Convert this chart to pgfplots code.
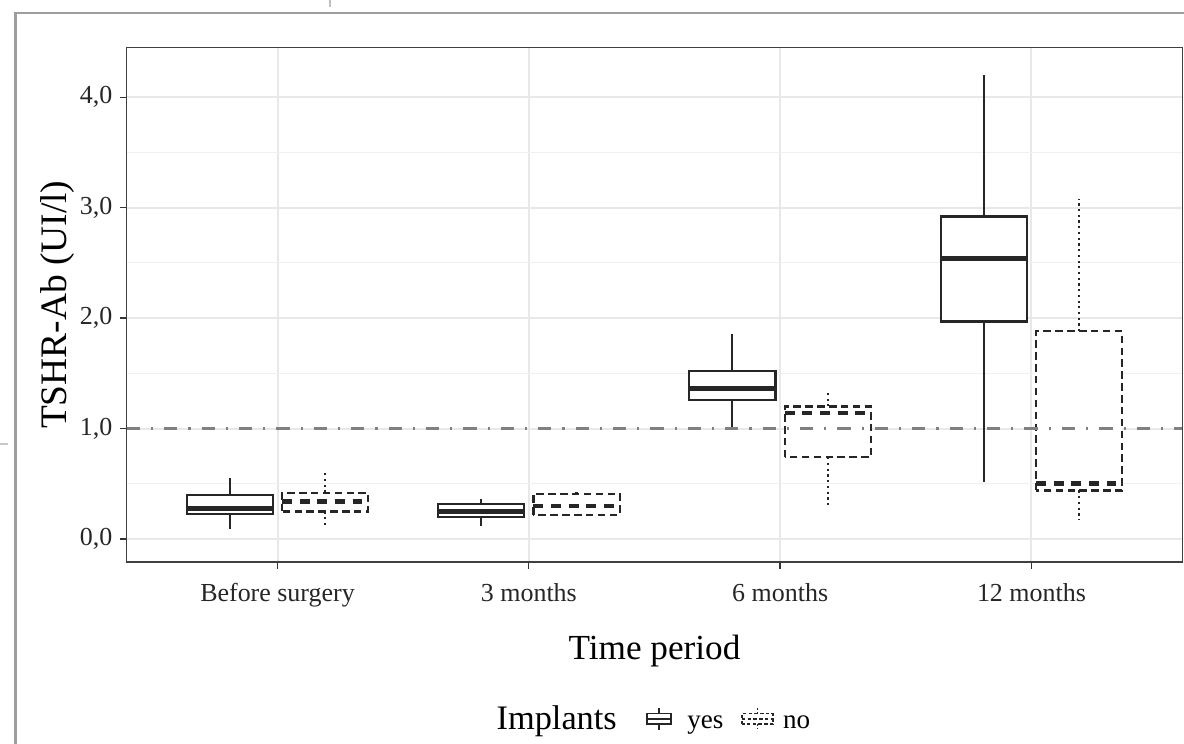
\documentclass[border=0pt]{standalone}
\usepackage{pgfplots}
\pgfplotsset{compat=1.18}
\usepgfplotslibrary{statistics}
\usepackage{fontspec}
\setmainfont{Liberation Serif}
\newcommand{\bigstrut}{\vphantom{\fontsize{15.6}{18}\selectfont Ip}}
\pgfplotsset{
  yesbox/.style={forget plot, draw=black!85, fill=white, line width=1pt, solid,
    boxplot/draw direction=y,
    boxplot/box extend=0.343, boxplot/whisker extend=0,
    boxplot/every box/.style={draw=black!85, fill=white, line width=1pt, solid},
    boxplot/every whisker/.style={draw=black!85, line width=1pt, solid},
    boxplot/every median/.style={draw=black!85, line width=2.3pt, solid}},
  nobox/.style={forget plot, draw=black!85, fill=white, line width=1pt,
    boxplot/draw direction=y,
    boxplot/box extend=0.343, boxplot/whisker extend=0,
    boxplot/every box/.style={draw=black!85, fill=white, line width=1pt, dash pattern=on 3.4pt off 2pt},
    boxplot/every whisker/.style={draw=black!85, line width=1.1pt, dash pattern=on 1pt off 1.6pt},
    boxplot/every median/.style={draw=black!85, line width=2.1pt, dash pattern=on 4.5pt off 3.5pt}},
}
\begin{document}
\begin{tikzpicture}
\useasboundingbox (0,0) rectangle (538.1pt,-338.1pt);
% outer frame of the screenshot
\draw[black!38, line width=1.1pt] (7.1pt,-340pt) -- (7.1pt,-5.8pt) -- (540pt,-5.8pt);
\draw[black!25, line width=0.6pt] (150pt,0pt) -- (150pt,-3.3pt);
\draw[black!22, line width=0.6pt] (0pt,-201.8pt) -- (3.6pt,-201.8pt);
\begin{axis}[
  at={(57.6pt,-21.6pt)}, anchor=north west,
  scale only axis, width=479.7pt, height=233.8pt,
  xmin=-0.6, xmax=3.6, ymin=-0.208, ymax=4.45,
  xtick={0,1,2,3}, xticklabels={Before surgery,3 months,6 months,12 months},
  ytick={0,1,2,3,4}, yticklabels={{0,0},{1,0},{2,0},{3,0},{4,0}},
  minor ytick={0.5,1.5,2.5,3.5},
  grid=both,
  major grid style={draw=black!9, line width=0.9pt},
  minor grid style={draw=black!6, line width=0.5pt},
  axis line style={draw=black!75, line width=0.5pt},
  tick align=outside, tick pos=left,
  major tick length=3pt, minor tick length=0pt,
  tick style={draw=black!80, line width=0.6pt},
  /pgf/number format/assume math mode=true,
  ticklabel style={font=\fontsize{11.8}{14}\selectfont, text=black!85},
  xticklabel style={yshift=-3.3pt},
  xlabel={Time period},
  xlabel style={font=\fontsize{16}{19}\selectfont, text=black, yshift=-5.8pt},
  ylabel={TSHR-Ab (UI/l)},
  ylabel style={font=\fontsize{17}{20}\selectfont, text=black, yshift=-4.5pt},
  legend columns=-1,
  legend style={at={(0.499,-0.305)}, anchor=center, draw=none, fill=none,
    font=\fontsize{12.3}{14}\selectfont, column sep=0pt},
]
% Implants = yes
\addplot[yesbox, boxplot prepared={draw position=-0.19, lower whisker=0.09, lower quartile=0.23, median=0.28, upper quartile=0.40, upper whisker=0.55}] coordinates {};
\addplot[yesbox, boxplot prepared={draw position=0.81, lower whisker=0.12, lower quartile=0.20, median=0.25, upper quartile=0.32, upper whisker=0.36}] coordinates {};
\addplot[yesbox, boxplot prepared={draw position=1.81, lower whisker=0.99, lower quartile=1.26, median=1.36, upper quartile=1.52, upper whisker=1.86}] coordinates {};
\addplot[yesbox, boxplot prepared={draw position=2.81, lower whisker=0.52, lower quartile=1.97, median=2.54, upper quartile=2.92, upper whisker=4.20}] coordinates {};
% Implants = no
\addplot[nobox, boxplot prepared={draw position=0.19, lower whisker=0.13, lower quartile=0.25, median=0.34, upper quartile=0.42, upper whisker=0.60}] coordinates {};
\addplot[nobox, boxplot prepared={draw position=1.19, lower whisker=0.21, lower quartile=0.22, median=0.30, upper quartile=0.41, upper whisker=0.44}] coordinates {};
\addplot[nobox, boxplot prepared={draw position=2.19, lower whisker=0.28, lower quartile=0.74, median=1.14, upper quartile=1.20, upper whisker=1.32}] coordinates {};
\addplot[nobox, boxplot prepared={draw position=3.19, lower whisker=0.17, lower quartile=0.44, median=0.50, upper quartile=1.88, upper whisker=3.08}] coordinates {};
% cut-off line
\addplot[forget plot, draw=black!50, line width=1pt, dash pattern=on 6pt off 5pt on 1pt off 5pt] coordinates {(-0.6,1) (3.6,1)};
% legend
\addlegendimage{empty legend}
\addlegendentry{\fontsize{15.6}{18}\selectfont Implants\kern11.3pt}
\addlegendimage{legend image code/.code={
  \draw[black!85, line width=0.8pt, fill=white] (0pt,-2.4pt) rectangle (11pt,2.4pt);
  \draw[black!85, line width=0.8pt] (0pt,0pt) -- (11pt,0pt);
  \draw[black!85, line width=0.8pt] (5.5pt,2.4pt) -- (5.5pt,5pt);
  \draw[black!85, line width=0.8pt] (5.5pt,-2.4pt) -- (5.5pt,-5pt);}}
\addlegendentry{\kern5pt yes\bigstrut\kern6pt}
\addlegendimage{legend image code/.code={
  \draw[black!85, line width=0.8pt, dash pattern=on 1.6pt off 1pt] (0pt,-2.4pt) rectangle (14pt,2.4pt);
  \draw[black!85, line width=0.8pt, dash pattern=on 1.6pt off 1pt] (0pt,0pt) -- (14pt,0pt);
  \draw[black!85, line width=0.8pt, dash pattern=on 0.8pt off 0.8pt] (7pt,2.4pt) -- (7pt,5pt);
  \draw[black!85, line width=0.8pt, dash pattern=on 0.8pt off 0.8pt] (7pt,-2.4pt) -- (7pt,-5pt);}}
\addlegendentry{\kern2.3pt no\bigstrut}
\end{axis}
\end{tikzpicture}
\end{document}
